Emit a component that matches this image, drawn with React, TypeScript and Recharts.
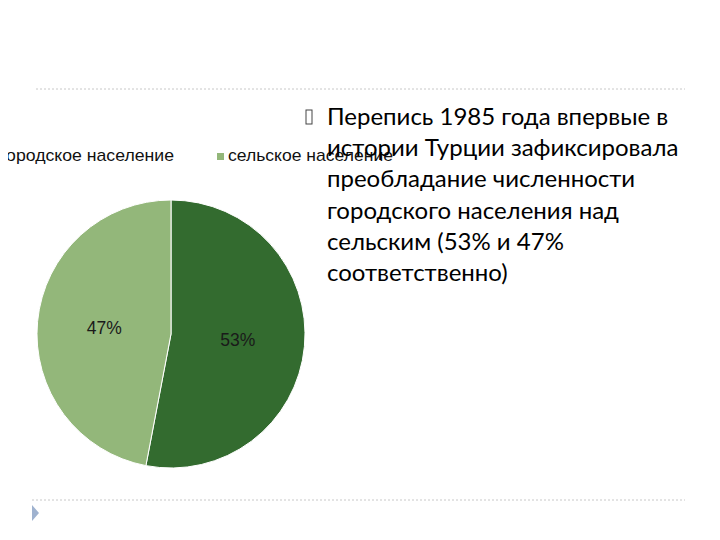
import { Cell, Pie, PieChart } from "recharts";

const categories = ["городское население", "сельское население"];
const values = [53, 47];
const COLORS = ["#336B2F", "#93B77A"];

const data = categories.map((name, i) => ({ name, value: values[i] }));

const bulletLines = [
  "Перепись 1985 года впервые в",
  "истории Турции зафиксировала",
  "преобладание численности",
  "городского населения над",
  "сельским (53% и 47%",
  "соответственно)",
];

// legend text spans as they appear in the slide (the chart was stretched sideways)
const legendX = [0, 228];
const legendW = [174, 165];

const RADIAN = Math.PI / 180;

const renderLabel = ({ cx, cy, midAngle, outerRadius, percent }: any) => {
  const r = outerRadius * 0.5;
  const x = cx + r * Math.cos(-(midAngle ?? 0) * RADIAN);
  const y = cy + r * Math.sin(-(midAngle ?? 0) * RADIAN);
  return (
    <text
      x={x}
      y={y}
      fill="#1a1a1a"
      textAnchor="middle"
      dominantBaseline="central"
      fontSize={17.5}
      fontFamily="Liberation Sans, Arial, sans-serif"
    >
      {`${((percent ?? 0) * 100).toFixed(0)}%`}
    </text>
  );
};

export default function App() {
  return (
    <div
      style={{
        position: "relative",
        width: 720,
        height: 540,
        margin: -8,
        background: "#fff",
        overflow: "hidden",
      }}
    >
      <div style={{ position: "absolute", left: 0, top: 0 }}>
        <PieChart width={720} height={540} margin={{ top: 0, right: 0, bottom: 0, left: 0 }}>
          <Pie
            data={data}
            dataKey="value"
            cx={171}
            cy={334}
            outerRadius={134}
            startAngle={90}
            endAngle={-270}
            stroke="#fff"
            strokeWidth={1}
            labelLine={false}
            label={renderLabel}
            isAnimationActive={false}
          >
            {data.map((entry, index) => (
              <Cell key={`cell-${entry.name}`} fill={COLORS[index]} />
            ))}
          </Pie>
        </PieChart>
      </div>

      <svg
        width={720}
        height={540}
        style={{ position: "absolute", left: 0, top: 0 }}
      >
        <line x1={36} y1={89} x2={685} y2={89} stroke="#c8c8c8" strokeDasharray="2 2" />
        <line x1={32} y1={500} x2={685} y2={500} stroke="#c8c8c8" strokeDasharray="2 2" />
        <polygon points="32,505 39,513 32,521" fill="#9fb2cf" />

        {/* legend */}
        {data.map((entry, index) => (
          <g key={entry.name}>
            <rect
              x={legendX[index] - 11}
              y={153}
              width={7}
              height={7}
              fill={COLORS[index]}
            />
            <text
              x={legendX[index]}
              y={161}
              fontSize={17}
              fontFamily="Liberation Sans, Arial, sans-serif"
              fill="#111"
              textLength={legendW[index]}
              lengthAdjust="spacingAndGlyphs"
            >
              {entry.name}
            </text>
          </g>
        ))}

        {/* bullet text */}
        <rect x={306} y={110} width={6} height={14} fill="none" stroke="#444" strokeWidth={1} />
        {bulletLines.map((line, i) => (
          <text
            key={i}
            x={327}
            y={125 + i * 31.2}
            fontSize={24}
            fontFamily="Lato, 'Open Sans', sans-serif"
            fill="#000"
          >
            {line}
          </text>
        ))}
      </svg>
    </div>
  );
}
